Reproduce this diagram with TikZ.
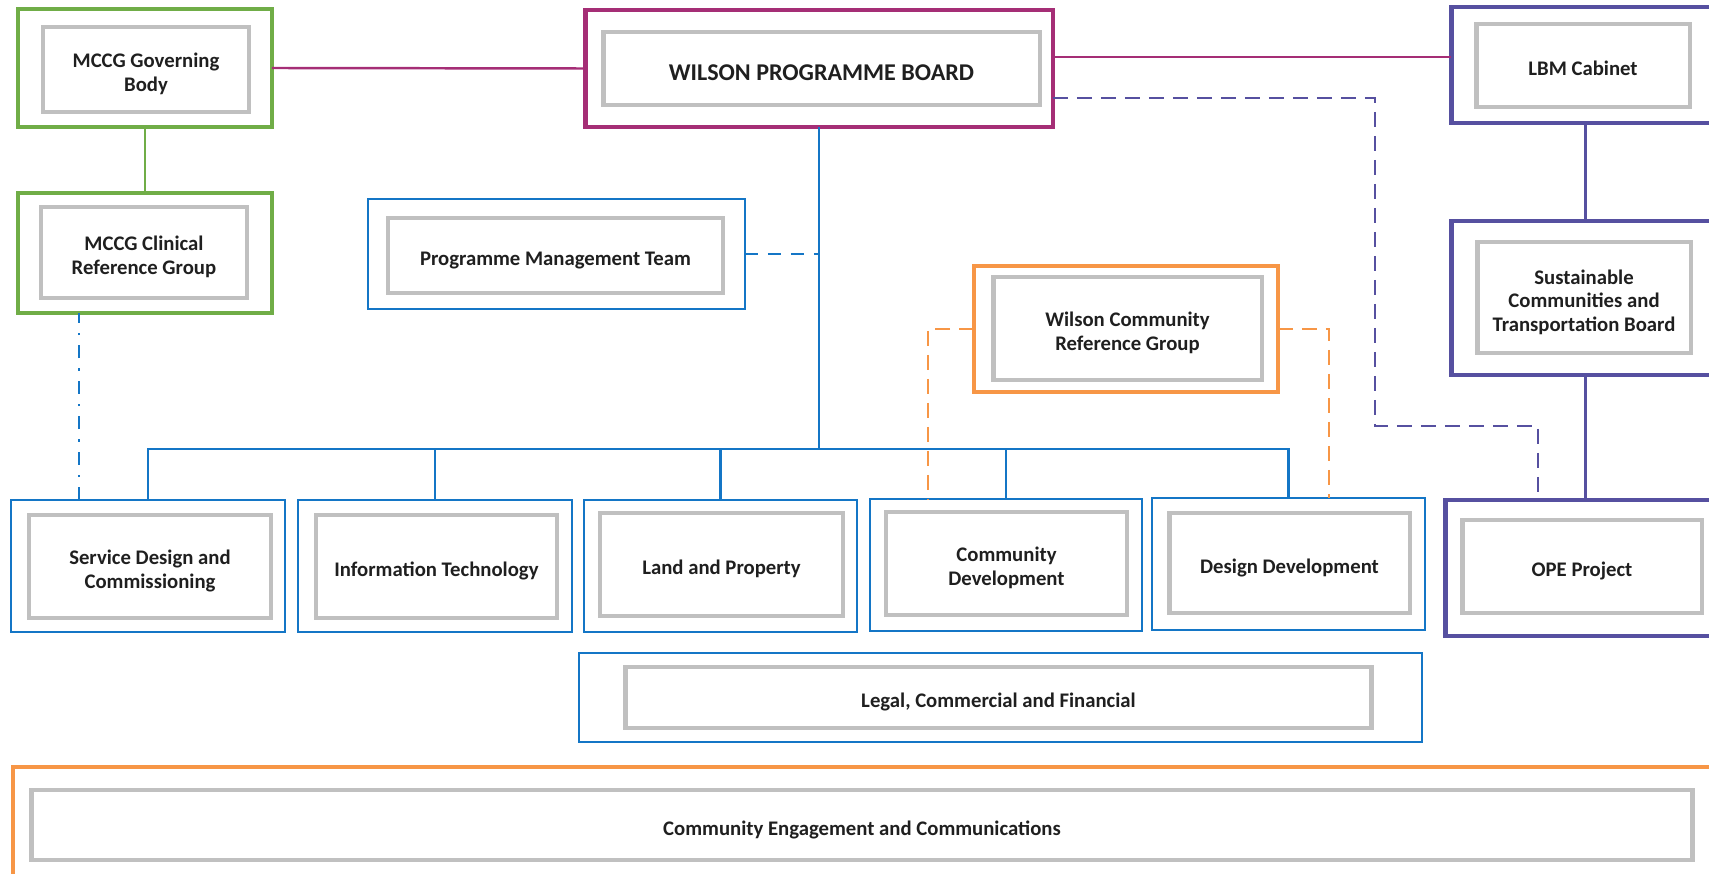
\documentclass[tikz,border=0pt]{standalone}
\usepackage{fontspec}
\setmainfont{Carlito}
\usetikzlibrary{positioning}
\definecolor{ccggreen}{RGB}{112,173,71}
\definecolor{boardmag}{RGB}{165,46,118}
\definecolor{lbmpurple}{RGB}{86,80,160}
\definecolor{teamblue}{RGB}{20,118,198}
\definecolor{commorange}{RGB}{247,150,70}
\definecolor{boxgray}{RGB}{192,192,192}

\tikzset{
  inbox/.style={draw=boxgray, line width=2.8pt, inner sep=0pt, outer sep=0pt,
                align=center, text=black!88,
                font=\bfseries\fontsize{11.8}{13.6}\selectfont,
                % fixed strut top and bottom, so every label sits a bit low
                execute at begin node={\rule{0pt}{1.25em}},
                execute at end node={\rule[-0.25em]{0pt}{0pt}}},
  twolines/.style={execute at begin node={\rule{0pt}{28.4pt}}},
  threelines/.style={execute at begin node={\rule{0pt}{42pt}}},
  unitframe/.style={draw=#1, line width=2.8pt, inner sep=0pt, outer sep=0pt},
  teamframe/.style={draw=teamblue, line width=1.4pt, inner sep=0pt, outer sep=0pt},
  orgline/.style={draw=teamblue, line width=1.4pt},
  pmtdash/.style={draw=teamblue, line width=1.6pt, dash pattern=on 0.26cm off 0.2cm},
  refdash/.style={draw=commorange, line width=1.6pt, dash pattern=on 0.3cm off 0.18cm},
  lbmdash/.style={draw=lbmpurple, line width=1.6pt, dash pattern=on 0.3cm off 0.18cm},
  clindash/.style={draw=teamblue, line width=1.5pt,
                   dash pattern=on 0.26cm off 0.2cm on 0.05cm off 0.2cm},
}

\begin{document}
\begin{tikzpicture}[x=0.02cm, y=-0.02cm]
  \clip (0,0) rectangle (1709,874);

  \coordinate (bus) at (819,449);
  \coordinate (pbend) at (1375,426);

  % governance boxes
  \node[unitframe=ccggreen, minimum width=5.08cm, minimum height=2.36cm] (gov) at (145,68) {};
  \node[inbox, twolines, minimum width=4.12cm, minimum height=1.70cm] (govIn) at (146,69.5) {MCCG Governing\\Body};
  \node[unitframe=ccggreen, minimum width=5.08cm, minimum height=2.40cm] (clin) at (145,253) {};
  \node[inbox, twolines, minimum width=4.12cm, minimum height=1.82cm] (clinIn) at (144,252.5) {MCCG Clinical\\Reference Group};

  \node[unitframe=boardmag, minimum width=9.36cm, minimum height=2.34cm] (wpb) at (819,68.5) {};
  \node[inbox, minimum width=8.74cm, minimum height=1.46cm,
        font=\bfseries\fontsize{13.7}{15}\selectfont] (wpbIn) at (821.5,68.5) {WILSON PROGRAMME BOARD};

  \node[unitframe=lbmpurple, minimum width=5.36cm, minimum height=2.32cm] (lbm) at (1585,65) {};
  \node[inbox, minimum width=4.28cm, minimum height=1.66cm] (lbmIn) at (1583,65.5) {LBM Cabinet};
  \node[unitframe=lbmpurple, minimum width=5.36cm, minimum height=3.08cm] (sctb) at (1585,298) {};
  \node[inbox, threelines, minimum width=4.28cm, minimum height=2.22cm] (sctbIn) at (1584,297.5) {Sustainable\\Communities and\\Transportation Board};
  \node[unitframe=lbmpurple, minimum width=5.60cm, minimum height=2.72cm] (ope) at (1585,568) {};
  \node[inbox, minimum width=4.80cm, minimum height=1.86cm] (opeIn) at (1582,566.5) {OPE Project};

  \node[teamframe, minimum width=7.54cm, minimum height=2.20cm] (pmt) at (556.5,254) {};
  \node[inbox, minimum width=6.70cm, minimum height=1.50cm] (pmtIn) at (555.5,255.5) {Programme Management Team};

  \node[unitframe=commorange, line width=2.2pt, minimum width=6.08cm, minimum height=2.52cm] (wcrg) at (1126,329) {};
  \node[inbox, twolines, minimum width=5.38cm, minimum height=2.06cm] (wcrgIn) at (1127.5,328.5) {Wilson Community\\Reference Group};

  % workstreams
  \node[teamframe, minimum width=5.48cm, minimum height=2.64cm] (sdc) at (148,566) {};
  \node[inbox, twolines, minimum width=4.84cm, minimum height=2.06cm] (sdcIn) at (150,566.5) {Service Design and\\Commissioning};
  \node[teamframe, minimum width=5.48cm, minimum height=2.64cm] (it) at (435,566) {};
  \node[inbox, minimum width=4.82cm, minimum height=2.06cm] (itIn) at (436.5,566.5) {Information Technology};
  \node[teamframe, minimum width=5.46cm, minimum height=2.64cm] (lp) at (720.5,566) {};
  \node[inbox, minimum width=4.86cm, minimum height=2.06cm] (lpIn) at (721.5,564.5) {Land and Property};
  \node[teamframe, minimum width=5.44cm, minimum height=2.64cm] (cd) at (1006,565) {};
  \node[inbox, twolines, minimum width=4.82cm, minimum height=2.06cm] (cdIn) at (1006.5,563.5) {Community\\Development};
  \node[teamframe, minimum width=5.46cm, minimum height=2.64cm] (dd) at (1288.5,564) {};
  \node[inbox, minimum width=4.82cm, minimum height=2.00cm] (ddIn) at (1289.5,563) {Design Development};

  \node[teamframe, minimum width=16.86cm, minimum height=1.78cm] (lcf) at (1000.5,697.5) {};
  \node[inbox, minimum width=14.94cm, minimum height=1.22cm] (lcfIn) at (998.5,697.5) {Legal, Commercial and Financial};

  \node[unitframe=commorange, line width=2.2pt, minimum width=34.24cm, minimum height=2.46cm] (cec) at (869,828.5) {};
  \node[inbox, minimum width=33.24cm, minimum height=1.40cm] (cecIn) at (862,825) {Community Engagement and Communications};

  % reporting lines
  \draw[boardmag, line width=1.4pt] (gov.east) -- (wpb.west);
  \draw[boardmag, line width=1.4pt] ([yshift=0.23cm]wpb.east) -- ([yshift=0.23cm]wpb.east -| lbm.west);
  \draw[ccggreen, line width=1.6pt] (gov.south) -- (clin.north);
  \draw[lbmpurple, line width=1.7pt] (lbm.south) -- (sctb.north);
  \draw[lbmpurple, line width=1.7pt] (sctb.south) -- (ope.north);
  \draw[orgline] (wpb.south) -- (bus);
  \foreach \u in {sdc,it,lp,cd,dd}
    \draw[orgline] (\u.north) |- (bus);
  \draw[pmtdash] (pmt.east) -- (pmt.east -| wpb.south);
  \draw[clindash] ([xshift=-1.38cm]sdc.north) -- ([xshift=-1.38cm]sdc.north |- clin.south);
  \draw[refdash] (wcrg.west) -| ([xshift=-1.56cm]cd.north);
  \draw[refdash] (wcrg.east) -| ([xshift=0.81cm]dd.north);
  \draw[lbmdash] ([yshift=-0.59cm]wpb.east) -| (pbend) -| ([xshift=-0.94cm]ope.north);
\end{tikzpicture}
\end{document}
